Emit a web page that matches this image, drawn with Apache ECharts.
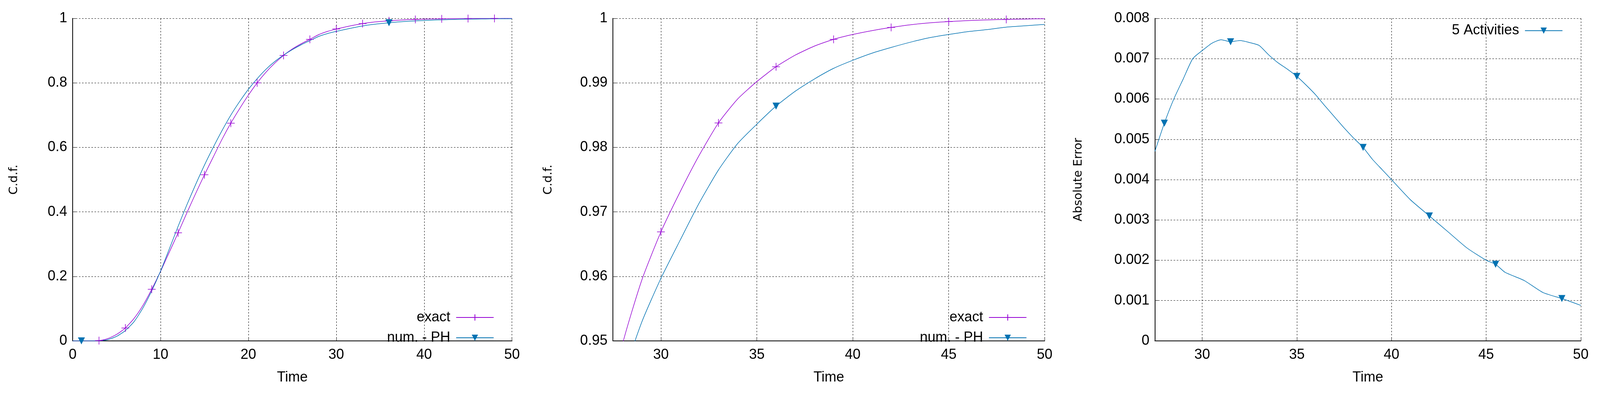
<!DOCTYPE html>
<html>
<head>
<meta charset="utf-8">
<script src="https://cdn.jsdelivr.net/npm/echarts@6/dist/echarts.min.js"></script>
<style>
  html, body { margin: 0; padding: 0; background: #fff; overflow: hidden; }
  #chart { width: 100vw; height: 100vh; }
</style>
</head>
<body>
<div id="chart"></div>
<script>
// time points for the c.d.f. curves
const times = [0,1,2,3,4,5,6,7,8,9,10,11,12,13,14,15,16,17,18,19,20,21,22,23,24,25,
  26,27,28,29,30,31,32,33,34,35,36,37,38,39,40,41,42,43,44,45,46,47,48,49,50];
const exactCdf = [0,0,0,0.001,0.007,0.02,0.04,0.07,0.11,0.16,0.215,0.275,0.335,0.397,0.457,
  0.515,0.57,0.625,0.675,0.72,0.762,0.80,0.833,0.861,0.885,0.905,0.921,0.935,0.9495,0.9594,
  0.9669,0.9731,0.9788,0.9838,0.9875,0.9902,0.9925,0.9943,0.9957,0.99675,0.9975,0.9981,
  0.99859,0.999,0.9993,0.9995,0.99965,0.99976,0.99984,0.9999,0.99994];
const phCdf = [0,0,0,0,0.004,0.014,0.032,0.06,0.102,0.155,0.216,0.285,0.355,0.422,0.485,
  0.545,0.60,0.652,0.70,0.742,0.78,0.813,0.842,0.866,0.886,0.903,0.918,0.931,0.9441,0.9529,
  0.9597,0.9656,0.9714,0.9765,0.9806,0.9836,0.9864,0.9887,0.9906,0.99225,0.9935,0.9946,
  0.99549,0.9963,0.997,0.9975,0.99795,0.99826,0.99864,0.99885,0.99906];
// absolute error curve
const errTimes = [27.5,28,28.5,29,29.5,30,30.5,31,31.5,32,32.5,33,33.5,34,34.5,35,35.5,36,
  36.5,37,37.5,38,38.5,39,39.5,40,41,42,43,44,45,45.5,46,47,48,49,50];
const errValues = [0.0047,0.0054,0.006,0.0065,0.007,0.0072,0.00738,0.00747,0.00742,0.00745,
  0.0074,0.00733,0.0071,0.0069,0.00674,0.00656,0.00634,0.0061,0.00582,0.00555,0.00528,0.00503,
  0.0048,0.0045,0.00425,0.004,0.0035,0.0031,0.0027,0.0023,0.002,0.0019,0.0017,0.0015,0.0012,
  0.00105,0.00088];
const exactMarks = [3,6,9,12,15,18,21,24,27,30,33,36,39,42,45,48];
const phMarks = [1,36];
const errMarks = [28,31.5,35,38.5,42,45.5,49];

const PURPLE = '#9400d3';
const BLUE = '#0072b2';
const PLUS = 'path://M0,5L10,5M5,0L5,10';
const TRI = 'path://M0,0L10,0L5,9Z';
const NUM_FONT = '"Liberation Sans Narrow", "Liberation Sans", sans-serif';
const NAME_FONT = '"DejaVu Sans", sans-serif';

const pairs = (xs, ys) => xs.map((x, i) => [x, ys[i]]);
const marker = (marks, size) => (v) => (marks.indexOf(v[0]) >= 0 ? size : 0);

const grids = [
  { left: '4.54%', right: '68.0%', top: '4.66%', bottom: '13.48%' },
  { left: '38.31%', right: '34.71%', top: '4.66%', bottom: '13.48%' },
  { left: '72.18%', right: '1.2%', top: '4.66%', bottom: '13.48%' }
];

function xAxis(i, min, custom) {
  const ax = {
    type: 'value', gridIndex: i, min: min, max: 50,
    name: 'Time', nameLocation: 'middle', nameGap: 76,
    nameTextStyle: { fontFamily: NUM_FONT, fontSize: 36, color: '#000' },
    axisLine: { show: true, onZero: false, lineStyle: { color: '#000', width: 2 } },
    axisTick: { inside: true, length: 10, lineStyle: { color: '#000' } },
    axisLabel: { fontFamily: NUM_FONT, fontSize: 36, color: '#000', margin: 18 },
    splitLine: { show: true, lineStyle: { color: '#000', type: [4, 4], width: 1 } }
  };
  if (custom) {
    ax.axisLabel.customValues = custom;
    ax.axisTick.customValues = custom;
  } else {
    ax.interval = 10;
  }
  return ax;
}
function yAxis(i, min, max, interval, name, gap) {
  return {
    type: 'value', gridIndex: i, min: min, max: max, interval: interval,
    name: name, nameLocation: 'middle', nameGap: gap, nameRotate: 90,
    nameTextStyle: { fontFamily: NAME_FONT, fontSize: 30, color: '#000' },
    axisLine: { show: true, lineStyle: { color: '#000', width: 2 } },
    axisTick: { inside: true, length: 10, lineStyle: { color: '#000' } },
    axisLabel: { fontFamily: NUM_FONT, fontSize: 36, color: '#000', margin: 14 },
    splitLine: { show: true, lineStyle: { color: '#000', type: [4, 4], width: 1 } }
  };
}
function exactSeries(i) {
  return {
    name: 'exact', type: 'line', xAxisIndex: i, yAxisIndex: i,
    data: pairs(times, exactCdf), smooth: 0.2, showSymbol: true,
    symbol: PLUS, symbolSize: marker(exactMarks, 20),
    lineStyle: { color: PURPLE, width: 1.5 },
    itemStyle: { color: PURPLE, borderColor: PURPLE, borderWidth: 1.5 }
  };
}
function phSeries(i) {
  return {
    name: 'num. - PH', type: 'line', xAxisIndex: i, yAxisIndex: i,
    data: pairs(times, phCdf), smooth: 0.2, showSymbol: true,
    symbol: TRI, symbolSize: marker(phMarks, 18),
    lineStyle: { color: BLUE, width: 1.5 },
    itemStyle: { color: BLUE }
  };
}
function legend(right, top, names) {
  return {
    orient: 'vertical', right: right, top: top, align: 'right',
    itemWidth: 96, itemHeight: 20, itemGap: 16,
    textStyle: { fontFamily: NUM_FONT, fontSize: 36, color: '#000', padding: [0, 10, 0, 0] },
    data: names
  };
}

const chart = echarts.init(document.getElementById('chart'));
chart.setOption({
  animation: false,
  backgroundColor: '#fff',
  grid: grids,
  legend: [
    legend('69.0%', '78.3%', ['exact', 'num. - PH']),
    legend('35.7%', '78.3%', ['exact', 'num. - PH']),
    legend('2.2%', '5.5%', ['5 Activities'])
  ],
  xAxis: [xAxis(0, 0), xAxis(1, 27.5, [30, 35, 40, 45, 50]), xAxis(2, 27.5, [30, 35, 40, 45, 50])],
  yAxis: [
    yAxis(0, 0, 1, 0.2, 'C.d.f.', 135),
    yAxis(1, 0.95, 1, 0.01, 'C.d.f.', 150),
    yAxis(2, 0, 0.008, 0.001, 'Absolute Error', 180)
  ],
  series: [
    exactSeries(0), phSeries(0), exactSeries(1), phSeries(1),
    {
      name: '5 Activities', type: 'line', xAxisIndex: 2, yAxisIndex: 2,
      data: pairs(errTimes, errValues), smooth: 0.2, showSymbol: true,
      symbol: TRI, symbolSize: marker(errMarks, 18),
      lineStyle: { color: BLUE, width: 1.5 },
      itemStyle: { color: BLUE }
    }
  ]
});
window.addEventListener('resize', () => chart.resize());
</script>
</body>
</html>
